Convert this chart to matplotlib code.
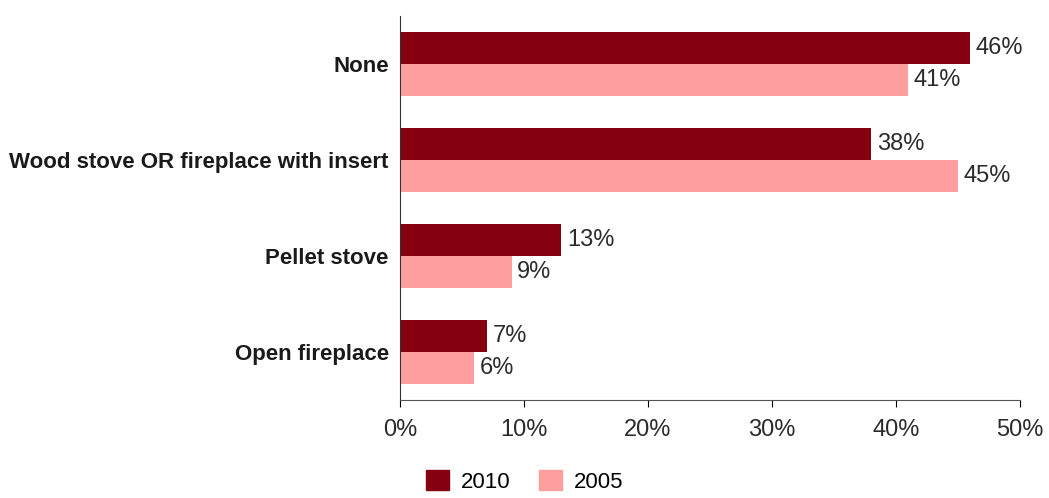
"""Horizontal grouped bar chart: heating appliance type, 2010 vs 2005"""

import numpy as np
from matplotlib import pyplot as plt
from matplotlib.patches import Patch
from matplotlib.ticker import PercentFormatter

categories = ['None', 'Wood stove OR fireplace with insert', 'Pellet stove', 'Open fireplace']
values_2010 = [46, 38, 13, 7]
values_2005 = [41, 45, 9, 6]
series_names = ['2010', '2005']

color_2010 = '#850010'
color_2005 = '#FF9E9E'

plt.rcParams['font.family'] = ['Liberation Sans', 'DejaVu Sans']

fig = plt.figure(figsize=(10.49, 4.98), dpi=100)
ax = fig.add_axes([0.3813, 0.1968, 0.5911, 0.7711])

ypos = np.arange(len(categories))
h = 1 / 3
ax.barh(ypos - h / 2, values_2010, height=h, color=color_2010)
ax.barh(ypos + h / 2, values_2005, height=h, color=color_2005)

# value labels right of each bar
for y, v in zip(ypos, values_2010):
    ax.annotate('%d%%' % v, (v, y - h / 2), xytext=(4, 0), textcoords='offset points',
                va='center', ha='left', fontsize=17, color='#2b2b2b')
for y, v in zip(ypos, values_2005):
    ax.annotate('%d%%' % v, (v, y + h / 2), xytext=(4, 0), textcoords='offset points',
                va='center', ha='left', fontsize=17, color='#2b2b2b')

ax.set_ylim(3.5, -0.5)
ax.set_xlim(0, 50)
ax.set_xticks(np.arange(0, 51, 10))
ax.xaxis.set_major_formatter(PercentFormatter(decimals=0))
ax.set_yticks(ypos, categories)
ax.tick_params(axis='y', length=0, pad=8, labelsize=16, labelcolor='#1a1a1a')
ax.tick_params(axis='x', length=5, direction='out', pad=9, labelsize=17, labelcolor='#2b2b2b')
for lab in ax.get_yticklabels():
    lab.set_fontweight('bold')

for side in ['top', 'right']:
    ax.spines[side].set_visible(False)
ax.spines['left'].set_color('#333333')
ax.spines['bottom'].set_color('#555555')

handles = [Patch(color=color_2010), Patch(color=color_2005)]
fig.legend(handles, series_names, loc='center', bbox_to_anchor=(0.5, 0.034), ncol=2,
           frameon=False, fontsize=16, handlelength=1.05, handleheight=1.05,
           columnspacing=1.3, handletextpad=0.5)

fig.savefig('out.png', dpi=100)
